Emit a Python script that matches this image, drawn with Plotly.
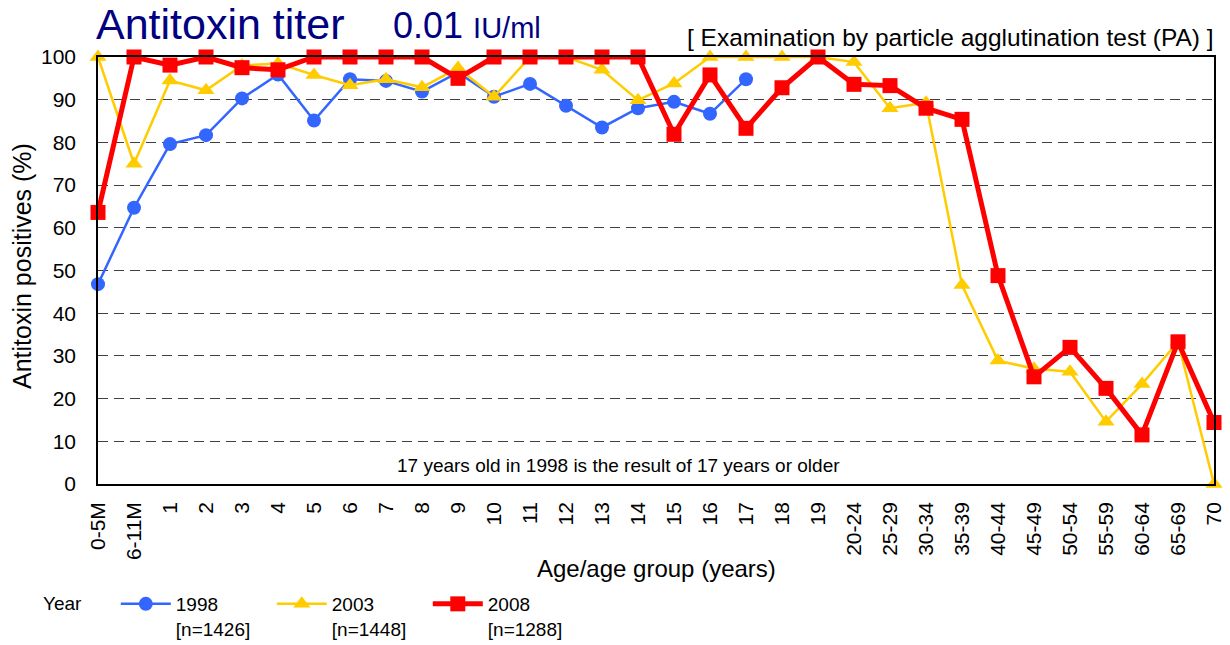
import plotly.graph_objects as go

ages = ["0-5M", "6-11M"] + [str(i) for i in range(1, 20)] + [
    "20-24", "25-29", "30-34", "35-39", "40-44", "45-49", "50-54",
    "55-59", "60-64", "65-69", "70"]

y1998 = [46.8, 64.7, 79.6, 81.7, 90.3, 95.9, 85.1, 94.8, 94.4, 91.9, 96.4,
         90.7, 93.7, 88.6, 83.5, 88.0, 89.5, 86.7, 94.8] + [None] * 13

y2003 = [100, 75.0, 94.5, 92.2, 98.0, 98.5, 95.8, 93.4, 94.8, 92.9, 97.4,
         90.7, 100, 100, 97.0, 89.9, 93.8, 100, 100, 100, 100,
         98.8, 88.0, 89.3, 46.6, 28.9, 27.0, 26.3, 14.6, 23.4, 33.3, 0]

y2008 = [63.6, 100, 98.1, 100, 97.5, 97.0, 100, 100, 100, 100, 95.0,
         100, 100, 100, 100, 100, 81.9, 95.8, 83.3, 92.8, 100,
         93.6, 93.3, 88.0, 85.4, 48.8, 25.1, 32.0, 22.4, 11.5, 33.3, 14.4]

series_names = ["1998<br>[n=1426]", "2003<br>[n=1448]", "2008<br>[n=1288]"]

FONT = "Liberation Sans, Arial, sans-serif"

fig = go.Figure()
fig.add_trace(go.Scatter(
    x=ages, y=y1998, name=series_names[0], mode="lines+markers",
    line=dict(color="#3366FF", width=2.5),
    marker=dict(symbol="circle", size=14, color="#3366FF"),
    cliponaxis=False))
fig.add_trace(go.Scatter(
    x=ages, y=y2003, name=series_names[1], mode="lines+markers",
    line=dict(color="#FFCC00", width=2.5),
    marker=dict(symbol="triangle-up", size=15, color="#FFCC00"),
    cliponaxis=False))
fig.add_trace(go.Scatter(
    x=ages, y=y2008, name=series_names[2], mode="lines+markers",
    line=dict(color="#FF0000", width=5),
    marker=dict(symbol="square", size=15, color="#FF0000"),
    cliponaxis=False))

L, R, T, B = 98, 16, 57, 161
W, H = 1230, 645
pw, ph = W - L - R, H - T - B


def px_x(x):
    return (x - L) / pw


def px_y(y):
    return (H - B - y) / ph


fig.update_layout(
    width=W, height=H,
    margin=dict(l=L, r=R, t=T, b=B, autoexpand=False),
    paper_bgcolor="white", plot_bgcolor="white",
    font=dict(family=FONT, color="black", size=20),
    showlegend=True,
    legend=dict(
        orientation="h", x=px_x(41), y=px_y(585), xanchor="left", yanchor="top",
        title=dict(text="Year     ", side="left", font=dict(size=19)),
        font=dict(size=19), valign="top",
        entrywidth=91, entrywidthmode="pixels", itemwidth=50,
        bgcolor="rgba(0,0,0,0)", tracegroupgap=0,
    ),
    xaxis=dict(
        type="category", range=[0, len(ages) - 1], tickangle=-90,
        showgrid=False, showline=True, linecolor="black", linewidth=1.5,
        mirror=True, ticks="", ticklabelstandoff=8,
        tickfont=dict(size=21), zeroline=False,
    ),
    yaxis=dict(
        range=[0, 100], dtick=10, showgrid=True, gridcolor="#404040",
        gridwidth=1, griddash="10px,6px", showline=True, linecolor="black",
        linewidth=1.5, mirror=True, ticks="", ticklabelstandoff=16,
        tickfont=dict(size=21), zeroline=False,
    ),
    annotations=[
        dict(text="Antitoxin titer", x=px_x(94), y=px_y(24), xref="paper",
             yref="paper", xanchor="left", yanchor="middle", showarrow=False,
             font=dict(size=43, color="#000080")),
        dict(text="0.01 <span style='font-size:29px'>IU/ml</span>",
             x=px_x(391), y=px_y(26), xref="paper", yref="paper",
             xanchor="left", yanchor="middle", showarrow=False,
             font=dict(size=36, color="#000080")),
        dict(text="[ Examination by particle agglutination test (PA) ]",
             x=px_x(1216), y=px_y(38), xref="paper", yref="paper",
             xanchor="right", yanchor="middle", showarrow=False,
             font=dict(size=24.5)),
        dict(text="17 years old in 1998 is the result of 17 years or older",
             x=px_x(618), y=px_y(465), xref="paper", yref="paper",
             xanchor="center", yanchor="middle", showarrow=False,
             font=dict(size=19)),
        dict(text="Age/age group (years)", x=px_x(656), y=px_y(568),
             xref="paper", yref="paper", xanchor="center", yanchor="middle",
             showarrow=False, font=dict(size=24)),
        dict(text="Antitoxin positives (%)", x=px_x(22), y=px_y(266),
             xref="paper", yref="paper", xanchor="center", yanchor="middle",
             textangle=-90, showarrow=False, font=dict(size=25)),
    ],
)

fig.write_html("out.html",
               config={"displayModeBar": False},
               post_script="document.body.style.margin='0';"
                           "document.body.style.padding='0';")
